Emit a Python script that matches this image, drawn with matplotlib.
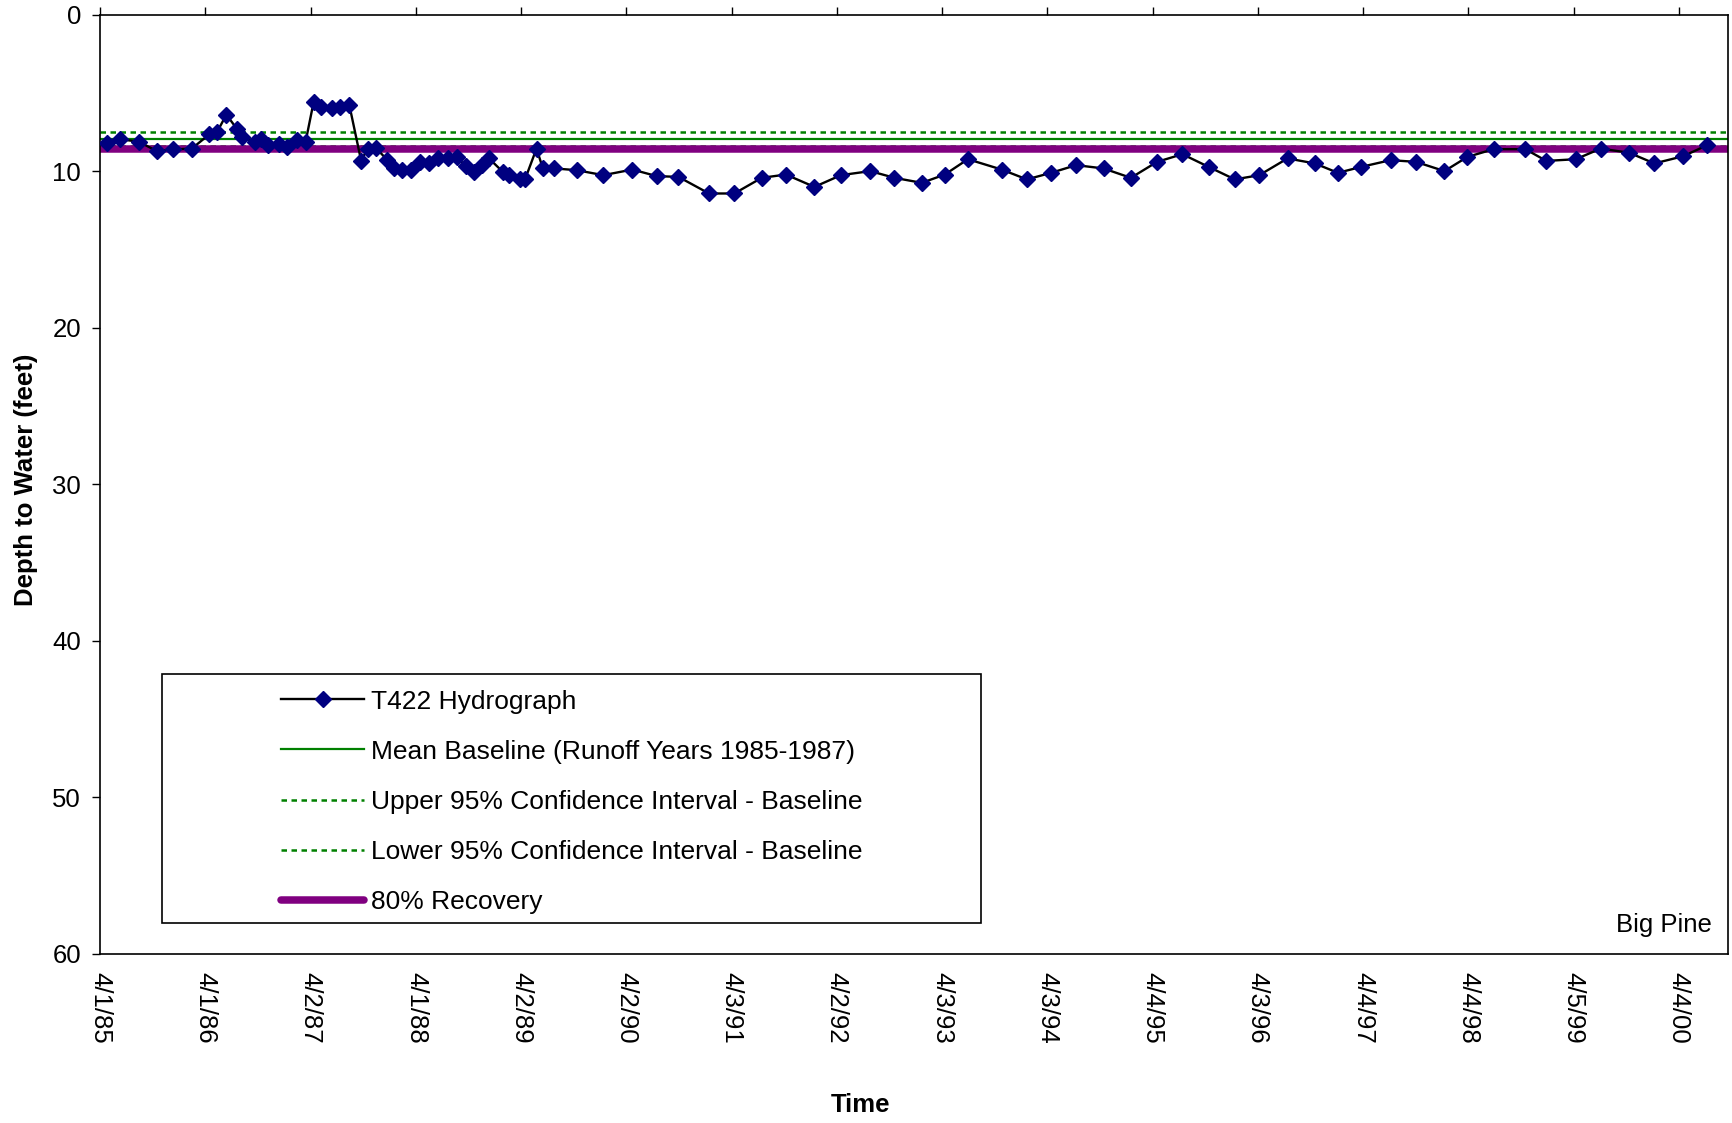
import matplotlib
matplotlib.use("Agg")
import matplotlib.pyplot as plt
import matplotlib.dates as mdates
from matplotlib.patches import Rectangle
import pandas as pd

plt.rcParams['font.family'] = ['Liberation Sans', 'DejaVu Sans']

# ---------------- data ----------------
dates = [
    "1985-04-26", "1985-06-09", "1985-08-14", "1985-10-15", "1985-12-09", "1986-02-13",
    "1986-04-14", "1986-05-12", "1986-06-13", "1986-07-20", "1986-08-07", "1986-09-20",
    "1986-10-12", "1986-11-06", "1986-12-13", "1987-01-10", "1987-02-14", "1987-03-15",
    "1987-04-12", "1987-05-08", "1987-06-13", "1987-07-12", "1987-08-14", "1987-09-24",
    "1987-10-16", "1987-11-14", "1987-12-24", "1988-01-15", "1988-02-13", "1988-03-14",
    "1988-04-16", "1988-05-15", "1988-06-17", "1988-07-20", "1988-08-22", "1988-09-22",
    "1988-10-21", "1988-11-16", "1988-12-11", "1989-01-28", "1989-02-19", "1989-03-28",
    "1989-04-15", "1989-05-25", "1989-06-16", "1989-07-26", "1989-10-11", "1990-01-12",
    "1990-04-23", "1990-07-16", "1990-09-30", "1991-01-14", "1991-04-12", "1991-07-16",
    "1991-10-08", "1992-01-15", "1992-04-16", "1992-07-27", "1992-10-19", "1993-01-22",
    "1993-04-12", "1993-07-01", "1993-10-26", "1994-01-22", "1994-04-16", "1994-07-12",
    "1994-10-15", "1995-01-18", "1995-04-19", "1995-07-16", "1995-10-15", "1996-01-14",
    "1996-04-08", "1996-07-15", "1996-10-18", "1997-01-06", "1997-03-28", "1997-07-08",
    "1997-10-04", "1998-01-11", "1998-04-01", "1998-07-01", "1998-10-19", "1998-12-31",
    "1999-04-12", "1999-07-08", "1999-10-15", "2000-01-10", "2000-04-19", "2000-07-12",
]
depth = [
    8.19, 7.95, 8.12, 8.72, 8.61, 8.55,
    7.65, 7.48, 6.38, 7.31, 7.84, 8.12,
    7.97, 8.33, 8.27, 8.44, 8.02, 8.12,
    5.57, 5.89, 5.93, 5.89, 5.78, 9.34,
    8.55, 8.50, 9.29, 9.76, 9.89, 9.89,
    9.40, 9.50, 9.18, 9.18, 9.12, 9.67,
    10.04, 9.61, 9.18, 10.04, 10.25, 10.52,
    10.52, 8.55, 9.82, 9.82, 9.93, 10.25,
    9.89, 10.31, 10.36, 11.42, 11.42, 10.42,
    10.21, 11.00, 10.25, 9.99, 10.42, 10.74,
    10.21, 9.23, 9.89, 10.52, 10.10, 9.61,
    9.82, 10.42, 9.40, 8.91, 9.72, 10.52,
    10.25, 9.18, 9.50, 10.10, 9.72, 9.29,
    9.40, 9.99, 9.08, 8.59, 8.59, 9.34,
    9.23, 8.55, 8.82, 9.50, 9.04, 8.33,
]

mean_baseline = 7.95
upper_ci = 7.52
lower_ci = 8.38
recovery_80 = 8.61

tick_labels = ["4/1/85", "4/1/86", "4/2/87", "4/1/88", "4/2/89", "4/2/90", "4/3/91",
               "4/2/92", "4/3/93", "4/3/94", "4/4/95", "4/3/96", "4/4/97", "4/4/98",
               "4/5/99", "4/4/00"]
y_ticks = [0, 10, 20, 30, 40, 50, 60]
x_start = "1985-04-01"
x_end = "2000-09-23"

series_names = ["T422 Hydrograph",
                "Mean Baseline (Runoff Years 1985-1987)",
                "Upper 95% Confidence Interval - Baseline",
                "Lower 95% Confidence Interval - Baseline",
                "80% Recovery"]

# ---------------- figure ----------------
FS = 18.5
LFS = 19
fig = plt.figure(figsize=(17.32, 11.23), dpi=100)
ax = fig.add_axes([0.0579, 0.1505, 0.9400, 0.8364])

x = pd.to_datetime(dates)

h_mean = ax.axhline(mean_baseline, color='#008000', lw=1.6, label=series_names[1], zorder=2)
h_up = ax.axhline(upper_ci, color='#008000', lw=1.8, ls=(0, (2.2, 1.8)), label=series_names[2], zorder=2)
h_lo = ax.axhline(lower_ci, color='#008000', lw=1.8, ls=(0, (2.2, 1.8)), label=series_names[3], zorder=2)
h_rec = ax.axhline(recovery_80, color='#800080', lw=5.4, solid_capstyle='round',
                   label=series_names[4], zorder=2)
h_hyd, = ax.plot(x, depth, color='black', lw=1.7, marker='D', ms=7.8,
                 mfc='#000080', mec='#000080', mew=1, label=series_names[0], zorder=3)

ax.set_xlim(pd.Timestamp(x_start), pd.Timestamp(x_end))
ax.set_ylim(60, 0)
ax.set_yticks(y_ticks)

tick_pos = pd.to_datetime(tick_labels, format="%m/%d/%y")
ax.set_xticks(tick_pos)
ax.set_xticklabels(tick_labels, rotation=-90, ha='center', va='top')

ax.tick_params(axis='x', bottom=False, top=True, labelbottom=True, labeltop=False,
               direction='out', length=5.8, width=1, pad=7, labelsize=FS)
ax.tick_params(axis='y', left=True, right=False, direction='out', length=5.8,
               width=1, pad=8, labelsize=FS)
for s in ax.spines.values():
    s.set_linewidth(1.2)
    s.set_color('black')

ax.set_ylabel("Depth to Water (feet)", fontsize=FS, fontweight='bold', va='center')
ax.yaxis.set_label_coords(-0.0458, 0.5045)
ax.set_xlabel("Time", fontsize=FS, fontweight='bold', va='center')
ax.xaxis.set_label_coords(0.467, -0.1603)

ax.text(0.990, 0.031, "Big Pine", transform=ax.transAxes, ha='right', va='center', fontsize=FS)

# legend box
ax.add_patch(Rectangle((0.038, 0.0333), 0.503, 0.2647, transform=ax.transAxes,
                       fill=False, ec='black', lw=1.2, zorder=4))
leg = ax.legend(handles=[h_hyd, h_mean, h_up, h_lo, h_rec], loc='upper left',
                bbox_to_anchor=(0.111, 0.2815), frameon=False, fontsize=LFS,
                borderpad=0, borderaxespad=0, handlelength=3.15, handletextpad=0.27,
                labelspacing=0.99, numpoints=1)

fig.savefig("out.png", dpi=100)
